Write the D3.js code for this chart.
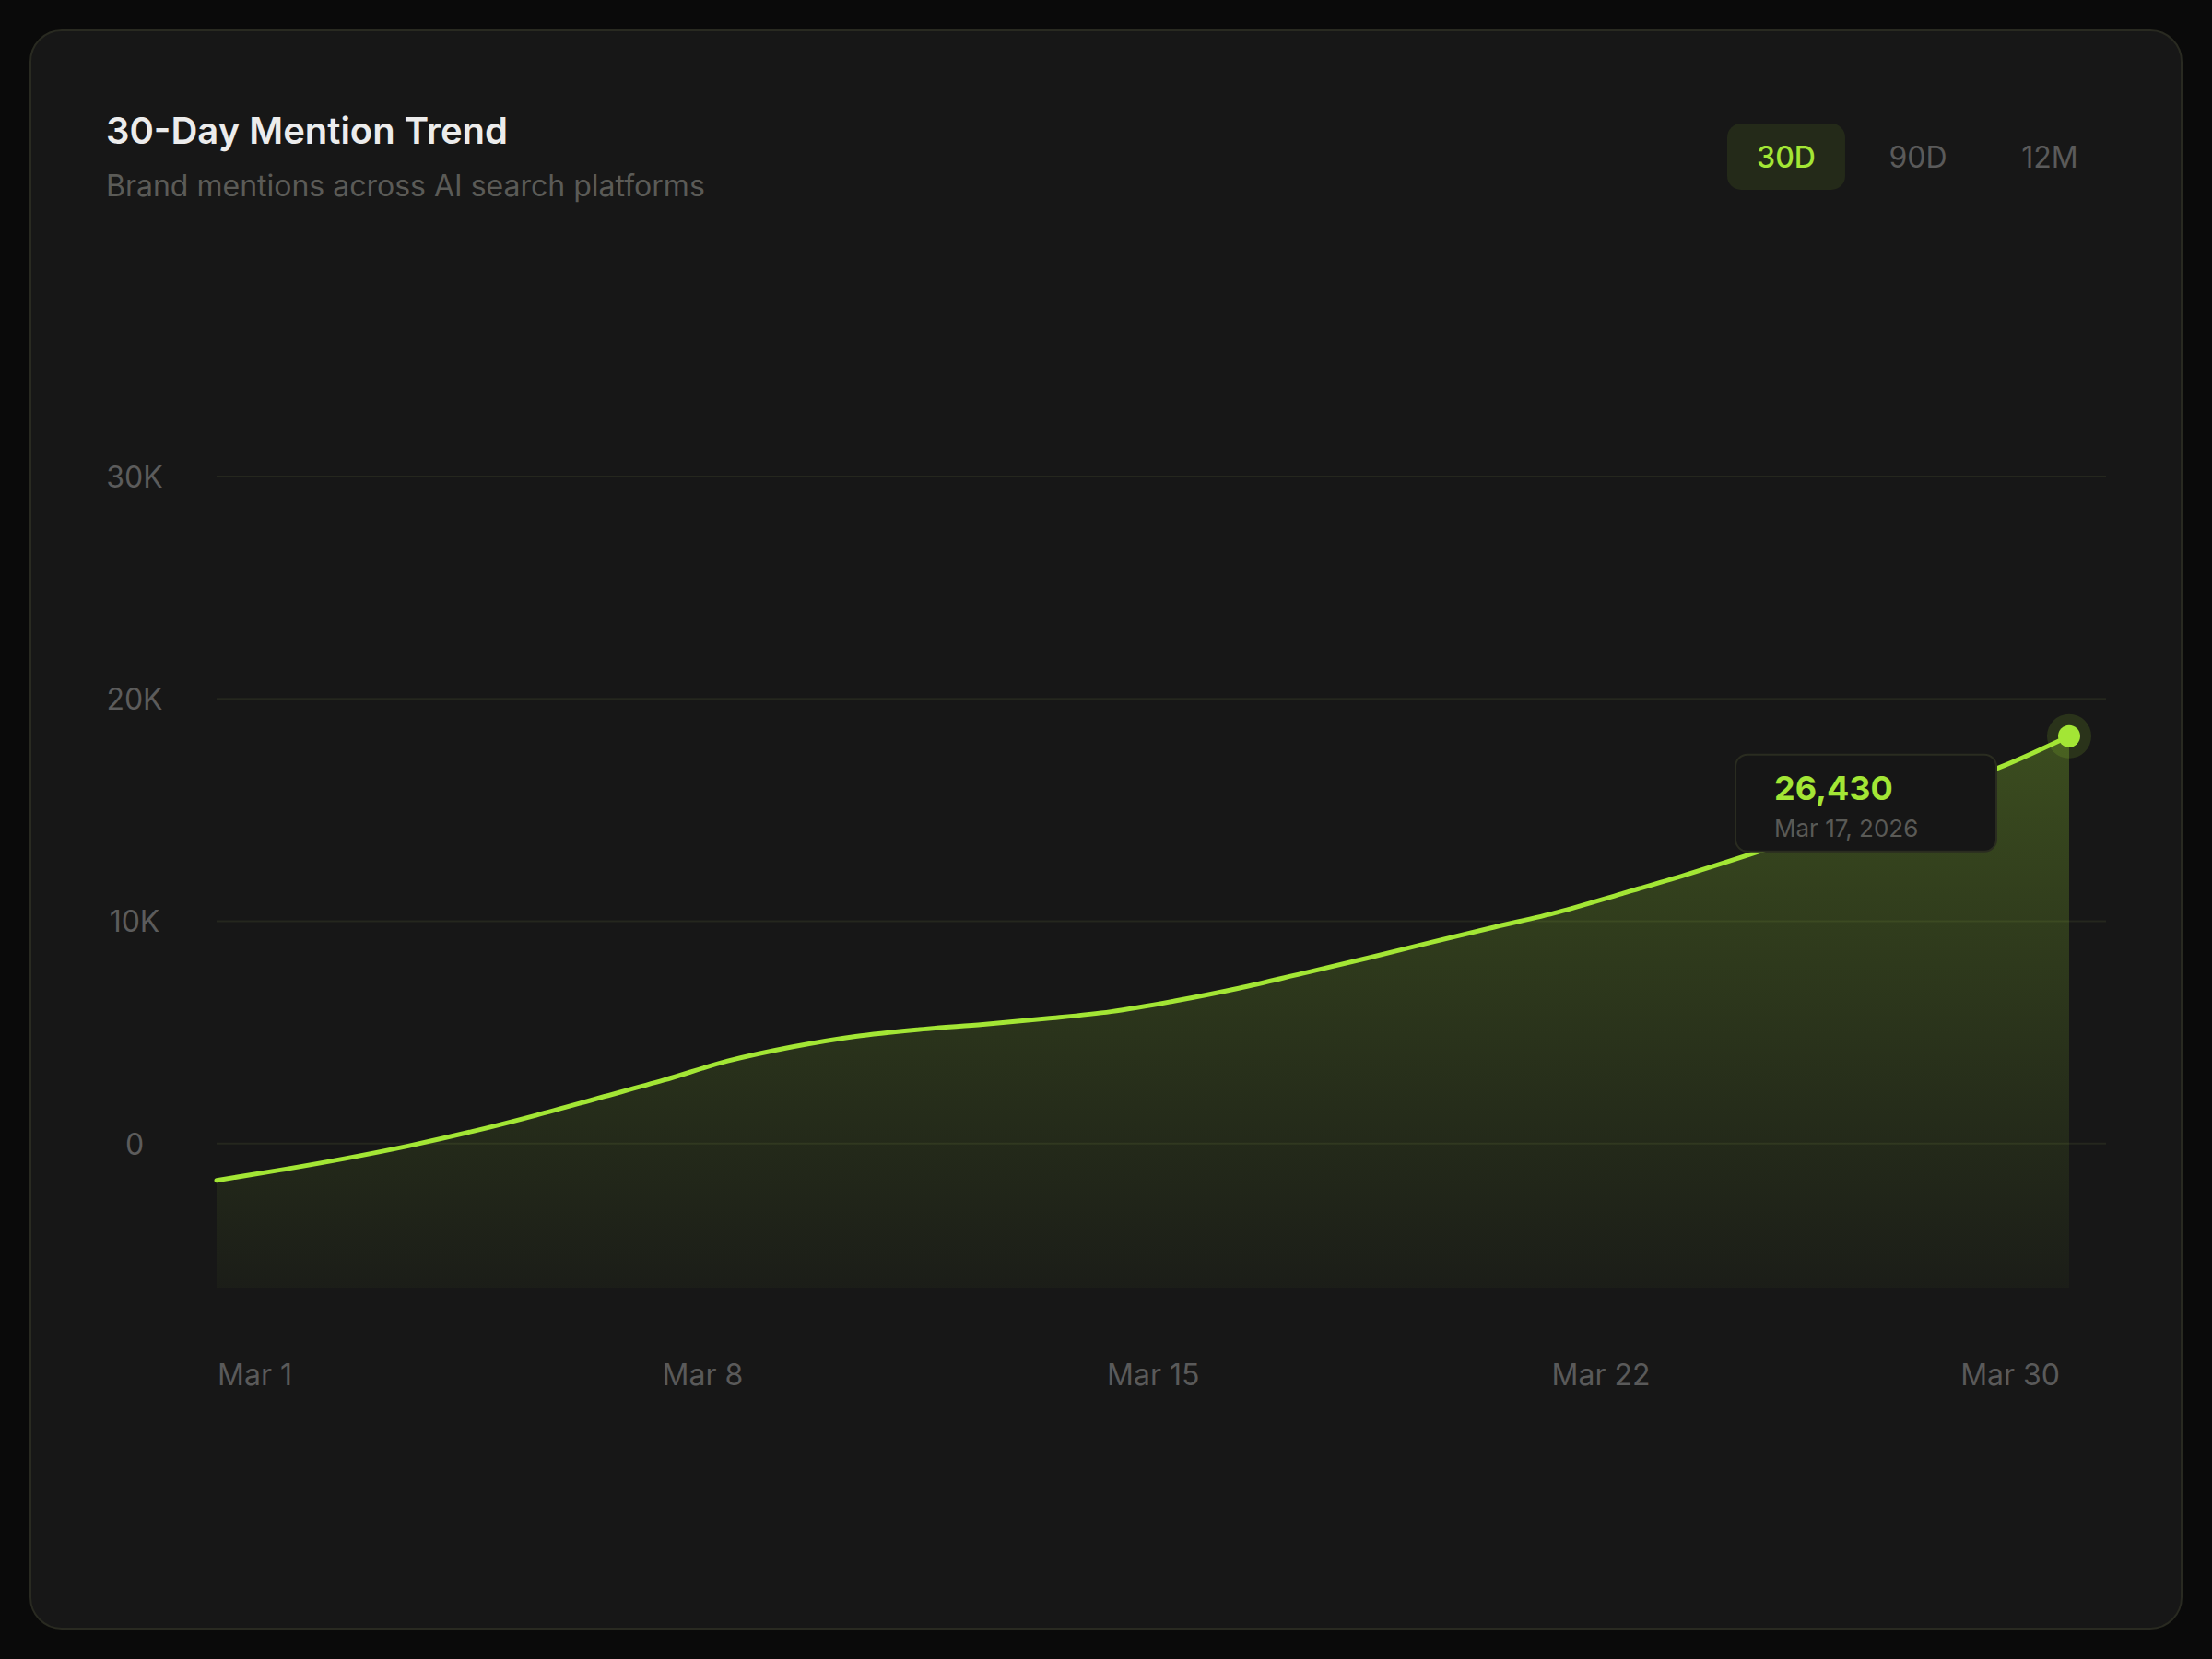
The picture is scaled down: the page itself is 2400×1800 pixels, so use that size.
<!DOCTYPE html>
<html><head><meta charset="utf-8">
<script src="https://cdn.jsdelivr.net/npm/d3@7"></script>
<style>
html,body{margin:0;padding:0;background:#0a0a0a;}
svg{display:block;font-family:Inter,"Noto Sans",sans-serif;}
</style>
</head><body>
<svg id="c" width="2400" height="1800"></svg>
<script>
// ---- data ----
const days = ["Mar 1","Mar 2","Mar 3","Mar 4","Mar 5","Mar 6","Mar 7","Mar 8","Mar 9","Mar 10",
  "Mar 11","Mar 12","Mar 13","Mar 14","Mar 15","Mar 16","Mar 17","Mar 18","Mar 19","Mar 20",
  "Mar 21","Mar 22","Mar 23","Mar 24","Mar 25","Mar 26","Mar 27","Mar 28","Mar 29","Mar 30"];
const mentions = [-1660,-1190,-680,-110,540,1270,2060,2850,3710,4340,
  4820,5130,5360,5620,5930,6410,6980,7650,8330,9040,
  9730,10410,11240,12090,13000,13950,14930,15960,17020,18320];
const xTickDays = ["Mar 1","Mar 8","Mar 15","Mar 22","Mar 30"];
const yTicks = [0,10000,20000,30000];
const yTickLabels = ["0","10K","20K","30K"];
const yMin = -6480, yMax = 30000;
const periods = ["30D","90D","12M"];
const activePeriod = "30D";
const title = "30-Day Mention Trend";
const subtitle = "Brand mentions across AI search platforms";
const tipValue = "26,430";
const tipDate = "Mar 17, 2026";

// ---- colours ----
const LIME = "#a3e635";

const svg = d3.select("#c");
const defs = svg.append("defs");
const grad = defs.append("linearGradient").attr("id","fillGrad")
  .attr("x1",0).attr("y1",0).attr("x2",0).attr("y2",1);
grad.append("stop").attr("offset","0%").attr("stop-color",LIME).attr("stop-opacity",0.26);
grad.append("stop").attr("offset","100%").attr("stop-color",LIME).attr("stop-opacity",0.03);

// card
svg.append("rect").attr("x",33).attr("y",33).attr("width",2334).attr("height",1734)
  .attr("rx",34).attr("fill","#171717").attr("stroke","#292a21").attr("stroke-width",2);

// header
svg.append("text").attr("x",115).attr("y",156).attr("fill","#ececec")
  .attr("font-size",40).attr("font-weight",600).text(title);
svg.append("text").attr("x",115).attr("y",213).attr("fill","#5b5b57")
  .attr("font-size",32).attr("font-weight",400).text(subtitle);

// period buttons
const bx = d3.scaleBand().domain(periods).range([1874,2288]).paddingInner(0.105).paddingOuter(0);
const btn = svg.append("g").selectAll("g").data(periods).join("g");
btn.filter(d=>d===activePeriod).append("rect")
  .attr("x",d=>bx(d)).attr("y",134).attr("width",bx.bandwidth()).attr("height",72)
  .attr("rx",15).attr("fill","#242a19");
btn.append("text").attr("x",d=>bx(d)+bx.bandwidth()/2).attr("y",182)
  .attr("text-anchor","middle").attr("font-size",32)
  .attr("font-weight",d=>d===activePeriod?500:400)
  .attr("fill",d=>d===activePeriod?LIME:"#5a5a5a").text(d=>d);

// scales
const x = d3.scalePoint().domain(days).range([235,2245]);
const xLab = d3.scalePoint().domain(days).range([236,2235]);
const y = d3.scaleLinear().domain([yMin,yMax]).range([1397,517]);

// grid
const grid = svg.append("g");
grid.selectAll("line").data(yTicks).join("line")
  .attr("x1",235).attr("x2",2285).attr("y1",d=>y(d)).attr("y2",d=>y(d))
  .attr("stroke","#25271e").attr("stroke-width",2);
grid.selectAll("text").data(yTicks).join("text")
  .attr("x",146).attr("y",d=>y(d)+12).attr("text-anchor","middle")
  .attr("font-size",32).attr("fill","#5c5c5c").text((d,i)=>yTickLabels[i]);

// area + line
const pts = days.map((d,i)=>({d, v:mentions[i]}));
const area = d3.area().x(p=>x(p.d)).y0(y(yMin)).y1(p=>y(p.v)).curve(d3.curveMonotoneX);
const line = d3.line().x(p=>x(p.d)).y(p=>y(p.v)).curve(d3.curveMonotoneX);
svg.append("path").datum(pts).attr("d",area).attr("fill","url(#fillGrad)");
svg.append("path").datum(pts).attr("d",line).attr("fill","none")
  .attr("stroke",LIME).attr("stroke-width",5).attr("stroke-linecap","round");

// end dot
const last = pts[pts.length-1];
svg.append("circle").attr("cx",x(last.d)).attr("cy",y(last.v)).attr("r",24)
  .attr("fill",LIME).attr("fill-opacity",0.14);
svg.append("circle").attr("cx",x(last.d)).attr("cy",y(last.v)).attr("r",12).attr("fill",LIME);

// x labels
svg.append("g").selectAll("text").data(xTickDays).join("text")
  .attr("x",d=>xLab(d)).attr("y",1503)
  .attr("text-anchor",(d,i)=>i===xTickDays.length-1?"end":"start")
  .attr("font-size",32).attr("fill","#5a5a5a").text(d=>d);

// tooltip
const tx = x(last.d) - 362, ty = y(last.v) + 20;
const tip = svg.append("g").attr("transform",`translate(${tx},${ty})`);
tip.append("rect").attr("x",0).attr("y",0).attr("width",283).attr("height",105).attr("rx",13)
  .attr("fill","#161616").attr("stroke","#2a2c20").attr("stroke-width",2);
tip.append("text").attr("x",42).attr("y",49).attr("font-size",36).attr("font-weight",700)
  .attr("fill",LIME).text(tipValue);
tip.append("text").attr("x",42).attr("y",89).attr("font-size",26).attr("font-weight",400)
  .attr("fill","#5a5a56").text(tipDate);
</script>
</body></html>
